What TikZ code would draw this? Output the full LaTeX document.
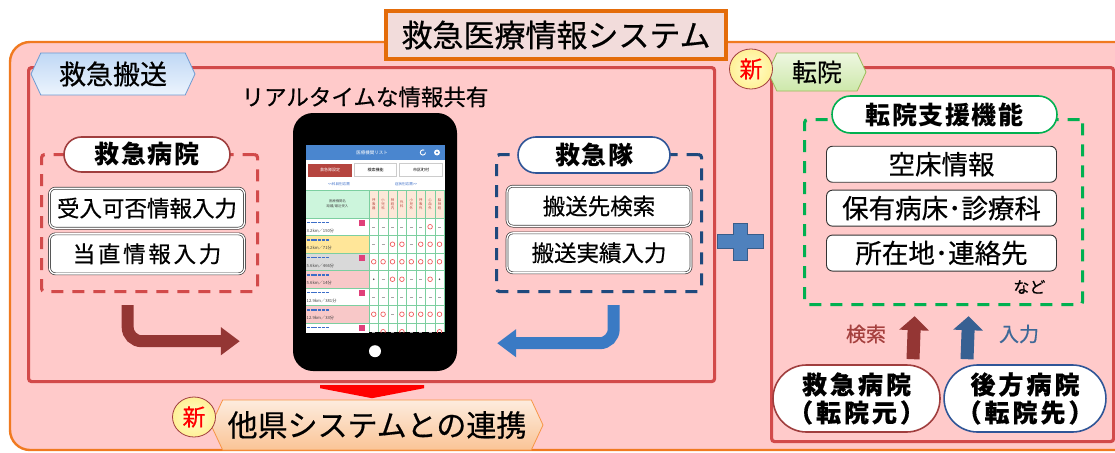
\documentclass[tikz,border=0pt]{standalone}
\usepackage{fontspec}
\setmainfont{Noto Sans CJK JP}[FakeBold=0.5]
\newfontfamily\jpsp[LetterSpace=6]{Noto Sans CJK JP}
\newfontfamily\jpwide[LetterSpace=12,FakeBold=0.5]{Noto Sans CJK JP}
\newfontfamily\jpscreen{Noto Sans CJK JP}
\usepackage{tikz}
\usetikzlibrary{calc,arrows.meta,positioning,shapes.misc,shapes.symbols,shapes.geometric}
\definecolor{sysorange}{RGB}{240,122,32}
\definecolor{titleorange}{RGB}{228,108,10}
\definecolor{titlefill}{RGB}{242,220,219}
\definecolor{syspink}{RGB}{255,202,202}
\definecolor{panelred}{RGB}{210,74,74}
\definecolor{hospred}{RGB}{160,62,62}
\definecolor{arrowred}{RGB}{148,54,52}
\definecolor{teamblue}{RGB}{31,73,125}
\definecolor{pillblue}{RGB}{47,85,151}
\definecolor{arrowblue}{RGB}{58,122,196}
\definecolor{upblue}{RGB}{55,96,146}
\definecolor{plusblue}{RGB}{79,129,189}
\definecolor{plusedge}{RGB}{56,93,138}
\definecolor{supgreen}{RGB}{0,176,80}
\definecolor{tagblueA}{RGB}{192,216,245}
\definecolor{tagblueB}{RGB}{236,244,253}
\definecolor{tagblueE}{RGB}{110,155,210}
\definecolor{taggreenA}{RGB}{238,247,225}
\definecolor{taggreenB}{RGB}{205,232,170}
\definecolor{taggreenE}{RGB}{155,187,89}
\definecolor{tagorangeA}{RGB}{253,236,222}
\definecolor{tagorangeB}{RGB}{250,196,150}
\definecolor{tagorangeE}{RGB}{247,150,70}
\definecolor{newyellow}{RGB}{255,255,205}
\definecolor{newyellowB}{RGB}{255,240,150}
\definecolor{scrblue}{RGB}{74,134,207}
\definecolor{scrred}{RGB}{181,69,63}
\definecolor{scrgreen}{RGB}{204,245,220}
\definecolor{scrpeach}{RGB}{253,232,216}
\definecolor{scrgrid}{RGB}{124,207,160}
\definecolor{rowyellow}{RGB}{255,230,153}
\definecolor{rowgray}{RGB}{217,217,217}
\definecolor{rowpink}{RGB}{248,200,200}
\definecolor{markred}{RGB}{240,96,96}
\definecolor{linkblue}{RGB}{60,110,200}
\definecolor{newmark}{RGB}{224,64,122}
\definecolor{searchred}{RGB}{165,64,62}
\definecolor{inputblue}{RGB}{62,104,151}

\begin{document}
\begin{tikzpicture}[x=1pt,y=-1pt,
    pill/.style={rounded rectangle,draw=#1,line width=1.6pt,fill=white,inner sep=0pt,
      font=\jpsp\fontsize{25}{28}\selectfont\bfseries},
    entry/.style={draw=black!75,double=white,double distance=1.3pt,line width=0.7pt,fill=white,
      rounded corners=6pt,minimum width=195pt,minimum height=40pt,inner sep=0pt,
      font=\fontsize{22.5}{24}\selectfont},
    item/.style={draw=black!80,line width=0.9pt,fill=white,rounded corners=6pt,
      minimum width=230pt,minimum height=36pt,inner sep=0pt,font=\fontsize{26.5}{28}\selectfont},
    groupbox/.style={draw=#1,line width=3.2pt,dash pattern=on 12pt off 9pt,rounded corners=3pt,
      inner sep=0pt,anchor=north west},
    panel/.style={draw=panelred,line width=3.2pt,fill=syspink,rounded corners=3pt,
      inner sep=0pt,anchor=north west},
    tag/.style={signal,signal to=east and west,signal pointer angle=130,draw=#1,line width=0.8pt,
      inner sep=0pt},
    newbadge/.style={ellipse,draw=hospred,line width=0.8pt,inner color=newyellow,outer color=newyellowB,
      minimum width=43pt,minimum height=40pt,inner sep=0pt,text=red,font=\fontsize{23}{24}\selectfont},
    bentarrow/.style={line width=12pt,rounded corners=14pt,-{Triangle[length=19pt,width=27pt]}},
    uparrow/.style={line width=13pt,-{Triangle[length=14pt,width=29pt]}},
    tiny/.style={font=\jpscreen\fontsize{#1}{#1}\selectfont},
  ]
  \clip (0,0) rectangle (1115,452);
  % outer frame and title
  \draw[sysorange,line width=2.4pt,fill=syspink,rounded corners=20pt] (10,42) rectangle (1140,450);
  \node[draw=titleorange,line width=3.5pt,fill=titlefill,minimum width=340pt,minimum height=48pt,
    font=\fontsize{31}{34}\selectfont] (title) at (556,35) {救急医療情報システム};

  % ---- transport side ----
  \node[panel,minimum width=686pt,minimum height=314pt] (transport) at (27,66) {};
  \node[tag=tagblueE,top color=tagblueA,bottom color=tagblueB,minimum width=164pt,minimum height=42pt,
    font=\fontsize{27}{30}\selectfont] (transtag) at (113,74) {救急搬送};

  \node[fill=black,rounded corners=20pt,minimum width=164pt,minimum height=258pt] (phone) at (375,242) {};
  \node[font=\fontsize{22.5}{24}\selectfont,above=2pt of phone,xshift=-10pt] (realtime) {リアルタイムな情報共有};
  \fill[white] ($(phone.south)+(0,-20)$) circle[radius=6];

  % screen of the phone
  \begin{scope}
    \clip (306,145) rectangle (445,332);
    \fill[white] (306,145) rectangle (445,332);
    \fill[scrblue] (306,145) rectangle (445,160);
    \node[text=white,tiny=4.5] at (372,152.5) {医療機関リスト};
    \draw[white,line width=0.9pt] (425.5,152.5) arc[start angle=0,end angle=300,radius=2.6];
    \fill[white] (437,152.5) circle[radius=3];
    \fill[scrblue] (437,152.5) circle[radius=1.1];
    \node[fill=scrred,text=white,minimum width=44pt,minimum height=13pt,inner sep=0pt,tiny=4]
      at (330,170) {救急隊設定};
    \node[draw=black!20,line width=0.3pt,minimum width=42pt,minimum height=13pt,inner sep=0pt,tiny=4]
      at (375.5,170) {検索機能};
    \node[draw=black!20,line width=0.3pt,minimum width=43pt,minimum height=13pt,inner sep=0pt,tiny=4]
      at (421,170) {市区町村};
    \node[text=linkblue,tiny=3.6] at (339,184.5) {<<科目別応需};
    \node[text=linkblue,tiny=3.6] at (406,184.5) {症状別応需>>};
    \fill[scrgreen] (306,190) rectangle (369,218);
    \fill[scrpeach] (369,190) rectangle (445,218);
    \node[align=center,text=black!70,font=\jpscreen\fontsize{3.4}{4.6}\selectfont] at (337.5,204) {医療機関名\\距離/最近受入};
    \foreach \h [count=\c from 0] in {呼\\吸\\器,小\\児\\科,神\\経\\内,外\\科,小\\児\\外,呼\\吸\\外,心\\血\\外,脳\\神\\経}
      \node[align=center,text=scrred,font=\jpscreen\fontsize{3.4}{3.9}\selectfont] at (373.7+9.4*\c,204) {\h};
    \foreach \r/\rc/\dist/\nw/\mk in {
        0/white/3.2km／150分/1/{0,0,0,0,0,0,1,0},
        1/rowyellow/4.2km／71分/0/{0,0,1,1,0,1,1,1},
        2/rowgray/5.6km／466分/1/{1,1,1,1,1,1,1,1},
        3/rowpink/5.6km／14分/0/{2,0,1,1,0,0,1,2},
        4/white/12.9km／381分/1/{0,0,0,0,0,0,0,0},
        5/rowpink/12.9km／33分/0/{1,1,0,1,1,1,1,1},
        6/white//1/{0,1,0,1,0,0,0,1}}{
      \pgfmathsetmacro\ry{218+17.5*\r}
      \fill[\rc] (306,\ry) rectangle (369,\ry+17.5);
      \draw[linkblue,line width=1.3pt,dash pattern=on 3pt off 0.7pt] (307,\ry+4.5) -- ++(22,0);
      \node[anchor=west,inner sep=0pt,text=black!75,tiny=4.2] at (306.5,\ry+12.5) {\dist};
      \ifnum\nw=1 \fill[newmark] (359,\ry+1.5) rectangle ++(6,6); \fi
      \foreach \m [count=\c from 0] in \mk {
        \pgfmathsetmacro\mx{373.7+9.4*\c}
        \ifnum\m=1 \draw[markred,line width=0.7pt] (\mx,\ry+8.75) circle[radius=2.3];
        \else\ifnum\m=2 \fill[black!70] (\mx,\ry+8.75) circle[radius=0.8];
        \else \draw[black!35,line width=0.5pt] (\mx-1.5,\ry+8.75) -- (\mx+1.5,\ry+8.75);
        \fi\fi
      }
    }
    \foreach \k in {0,...,8}
      \draw[scrgrid,line width=0.6pt] (369+9.4*\k,190) -- (369+9.4*\k,332);
    \foreach \yy in {190,218,235.5,253,270.5,288,305.5,323}
      \draw[scrgrid,line width=0.6pt] (306,\yy) -- (445,\yy);
  \end{scope}

  % hospital group
  \node[groupbox=panelred,minimum width=216pt,minimum height=137pt] (hospgrp) at (40,153) {};
  \node[pill=hospred,minimum width=166pt,minimum height=35pt] (hosp) at (147,154.5) {救急病院};
  \node[entry,below=15pt of hosp] (accept) {受入可否情報入力};
  \node[entry,below=5pt of accept,font=\jpwide\fontsize{22.5}{24}\selectfont] (duty) {当直情報入力};

  % ambulance group
  \node[groupbox=teamblue,minimum width=205pt,minimum height=137pt] (teamgrp) at (495,153) {};
  \node[pill=pillblue,minimum width=152pt,minimum height=36pt] (team) at (594,155) {救急隊};
  \node[entry,minimum width=184pt,below=12pt of team,xshift=5pt] (search) {搬送先検索};
  \node[entry,minimum width=184pt,below=6pt of search] (record) {搬送実績入力};

  % flows into the phone
  \coordinate (hospout) at ($(hospgrp.south west)!0.4!(hospgrp.south east)+(0,12)$);
  \coordinate (hospin) at ($(phone.south west)+(-53,-30)$);
  \draw[bentarrow,arrowred] (hospout) |- (hospin);
  \coordinate (teamout) at ($(teamgrp.south west)!0.57!(teamgrp.south east)+(0,12)$);
  \coordinate (teamin) at ($(phone.south east)+(40,-28)$);
  \draw[bentarrow,arrowblue] (teamout) |- (teamin);

  % link to other prefectures
  \coordinate (linktop) at ($(phone.south)+(-3,14)$);
  \fill[red] ($(linktop)+(-52,0)$) -- ($(linktop)+(52,0)$) -- ($(linktop)+(52,3)$)
    -- ($(linktop)+(0,13)$) -- ($(linktop)+(-52,3)$) -- cycle;
  \node[tag=tagorangeE,top color=tagorangeA,bottom color=tagorangeB,minimum width=332pt,minimum height=50pt,
    font=\fontsize{30}{32}\selectfont] (link) at (377,425) {他県システムとの連携};
  \node[newbadge] (linknew) at (194,417) {新};

  % plus
  \coordinate (plus) at (740,241.5);
  \fill[plusblue,draw=plusedge,line width=1pt,shift={(plus)}]
    (-7,-18.5) -- (7,-18.5) -- (7,-7) -- (23,-7) -- (23,7) -- (7,7) -- (7,18.5)
    -- (-7,18.5) -- (-7,7) -- (-23,7) -- (-23,-7) -- (-7,-7) -- cycle;

  % ---- transfer side ----
  \node[panel,minimum width=342pt,minimum height=374pt] (transfer) at (770,66) {};
  \node[tag=taggreenE,top color=taggreenA,bottom color=taggreenB,minimum width=98pt,minimum height=38pt,
    font=\fontsize{25}{28}\selectfont] (transfertag) at (817,72) {転院};
  \node[newbadge] (transfernew) at (751,69) {新};

  \node[groupbox=supgreen,minimum width=278pt,minimum height=185pt] (supgrp) at (803,118) {};
  \node[pill=supgreen,minimum width=225pt,minimum height=37pt] (support) at (944.5,114.5) {転院支援機能};
  \node[item,below=12pt of support,xshift=-3pt] (bed) {空床情報};
  \node[item,below=7pt of bed] (ward) {保有病床･診療科};
  \node[item,below=8pt of ward] (addr) {所在地･連絡先};
  \node[anchor=north east,font=\fontsize{16}{18}\selectfont] (etc) at ($(addr.south east)+(-8,5)$) {など};

  \node[pill=hospred,minimum width=167pt,minimum height=67pt,align=center,
    font=\jpwide\fontsize{25}{28}\selectfont\bfseries] (origin) at (856.5,398.5) {救急病院\\（転院元）};
  \node[pill=pillblue,minimum width=156pt,minimum height=67pt,align=center,
    font=\jpwide\fontsize{25}{28}\selectfont\bfseries] (dest) at (1025,398.5) {後方病院\\（転院先）};

  \draw[uparrow,arrowred] ($(origin.north)+(56.5,-5)$) -- ($(supgrp.south)+(-29,10)$);
  \draw[uparrow,upblue] ($(dest.north)+(-58,-5)$) -- ($(supgrp.south)+(25,10)$);
  \node[text=searchred,font=\fontsize{20}{22}\selectfont] (searchlbl) at (866,334) {検索};
  \node[text=inputblue,font=\fontsize{20}{22}\selectfont] (inputlbl) at (1019,334) {入力};
\end{tikzpicture}
\end{document}
